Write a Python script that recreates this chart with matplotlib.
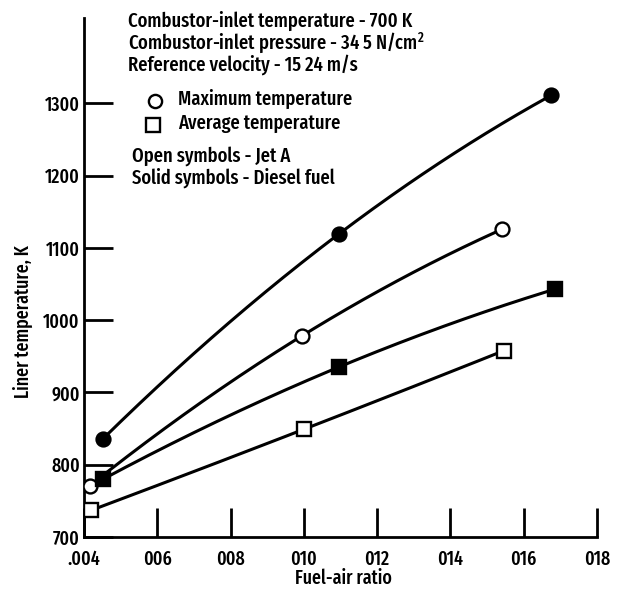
import numpy as np
import matplotlib
matplotlib.use("Agg")
import matplotlib.pyplot as plt
from matplotlib.lines import Line2D

plt.rcParams['font.family'] = ['Fira Sans Extra Condensed', 'DejaVu Sans']
plt.rcParams['font.weight'] = 500
plt.rcParams['mathtext.fontset'] = 'custom'
plt.rcParams['mathtext.rm'] = 'Fira Sans Extra Condensed'

# Fuel-air ratio and liner temperature (K) for each case
diesel_max_x = [0.00452, 0.01095, 0.01675]
diesel_max_y = [836, 1119, 1311]
jeta_max_x = [0.00416, 0.00994, 0.01542]
jeta_max_y = [771, 978, 1126]
diesel_avg_x = [0.00452, 0.01095, 0.01686]
diesel_avg_y = [780, 935, 1043]
jeta_avg_x = [0.0042, 0.0100, 0.01547]
jeta_avg_y = [737, 849, 958]

x_ticks = [0.004, 0.006, 0.008, 0.010, 0.012, 0.014, 0.016, 0.018]
x_tick_labels = ['.004', '006', '008', '010', '012', '014', '016', '018']
y_ticks = [700, 800, 900, 1000, 1100, 1200, 1300]

W, H = 618, 589
fig = plt.figure(figsize=(W / 100, H / 100), dpi=100)
ax = fig.add_axes([84 / W, 1 - 537 / H, (597 - 84) / W, (537 - 18) / H])

LW = 2.2
MS = 10

def smooth(xs, ys):
    c = np.polyfit(xs, ys, 2)
    xx = np.linspace(xs[0], xs[-1], 200)
    return xx, np.polyval(c, xx)

series = [
    (diesel_max_x, diesel_max_y, 'o', 'black'),
    (jeta_max_x, jeta_max_y, 'o', 'white'),
    (diesel_avg_x, diesel_avg_y, 's', 'black'),
    (jeta_avg_x, jeta_avg_y, 's', 'white'),
]
for xs, ys, m, fc in series:
    xx, yy = smooth(xs, ys)
    ax.plot(xx, yy, color='black', lw=LW, solid_capstyle='round', zorder=2)
for xs, ys, m, fc in series:
    ax.plot(xs, ys, linestyle='none', marker=m, ms=MS, mfc=fc, mec='black',
            mew=1.7, zorder=3)

ax.set_xlim(0.004, 0.018)
ax.set_ylim(700, 1418)
for s in ['top', 'right']:
    ax.spines[s].set_visible(False)
for s in ['left', 'bottom']:
    ax.spines[s].set_linewidth(2.0)

ax.set_xticks(x_ticks)
ax.set_xticklabels(x_tick_labels)
ax.set_yticks(y_ticks)
ax.set_yticklabels([str(v) for v in y_ticks])
ax.tick_params(axis='both', direction='in', length=21, width=2.0,
               labelsize=14, pad=3)
ax.tick_params(axis='x', pad=9)

fs = 14.5
fig.text(343 / W, 1 - 578 / H, 'Fuel-air ratio', ha='center', va='center',
         fontsize=14)
fig.text(23 / W, 1 - 322 / H, 'Liner temperature, K', ha='center',
         va='center', rotation=90, fontsize=14)

def px(x, y):
    return x / W, 1 - y / H

fig.text(*px(128, 21), 'Combustor-inlet temperature - 700 K', fontsize=fs,
         va='center')
fig.text(*px(128, 43), 'Combustor-inlet pressure - 34 5 N/cm$^2$',
         fontsize=fs, va='center')
fig.text(*px(128, 65), 'Reference velocity - 15 24 m/s', fontsize=fs,
         va='center')

legend_items = [
    (155, 101, 'o', 'Maximum temperature'),
    (153, 125, 's', 'Average temperature'),
]
for x, y, m, label in legend_items:
    fig.add_artist(Line2D([x / W], [1 - y / H], marker=m, ms=9.5, mfc='white',
                          mec='black', mew=1.7, linestyle='none',
                          transform=fig.transFigure))
    fig.text(*px(178, y - 2), label, fontsize=fs, va='center')

fig.text(*px(132, 156), 'Open symbols - Jet A', fontsize=fs, va='center')
fig.text(*px(132, 178), 'Solid symbols - Diesel fuel', fontsize=fs,
         va='center')

fig.savefig('out.png', dpi=100)
